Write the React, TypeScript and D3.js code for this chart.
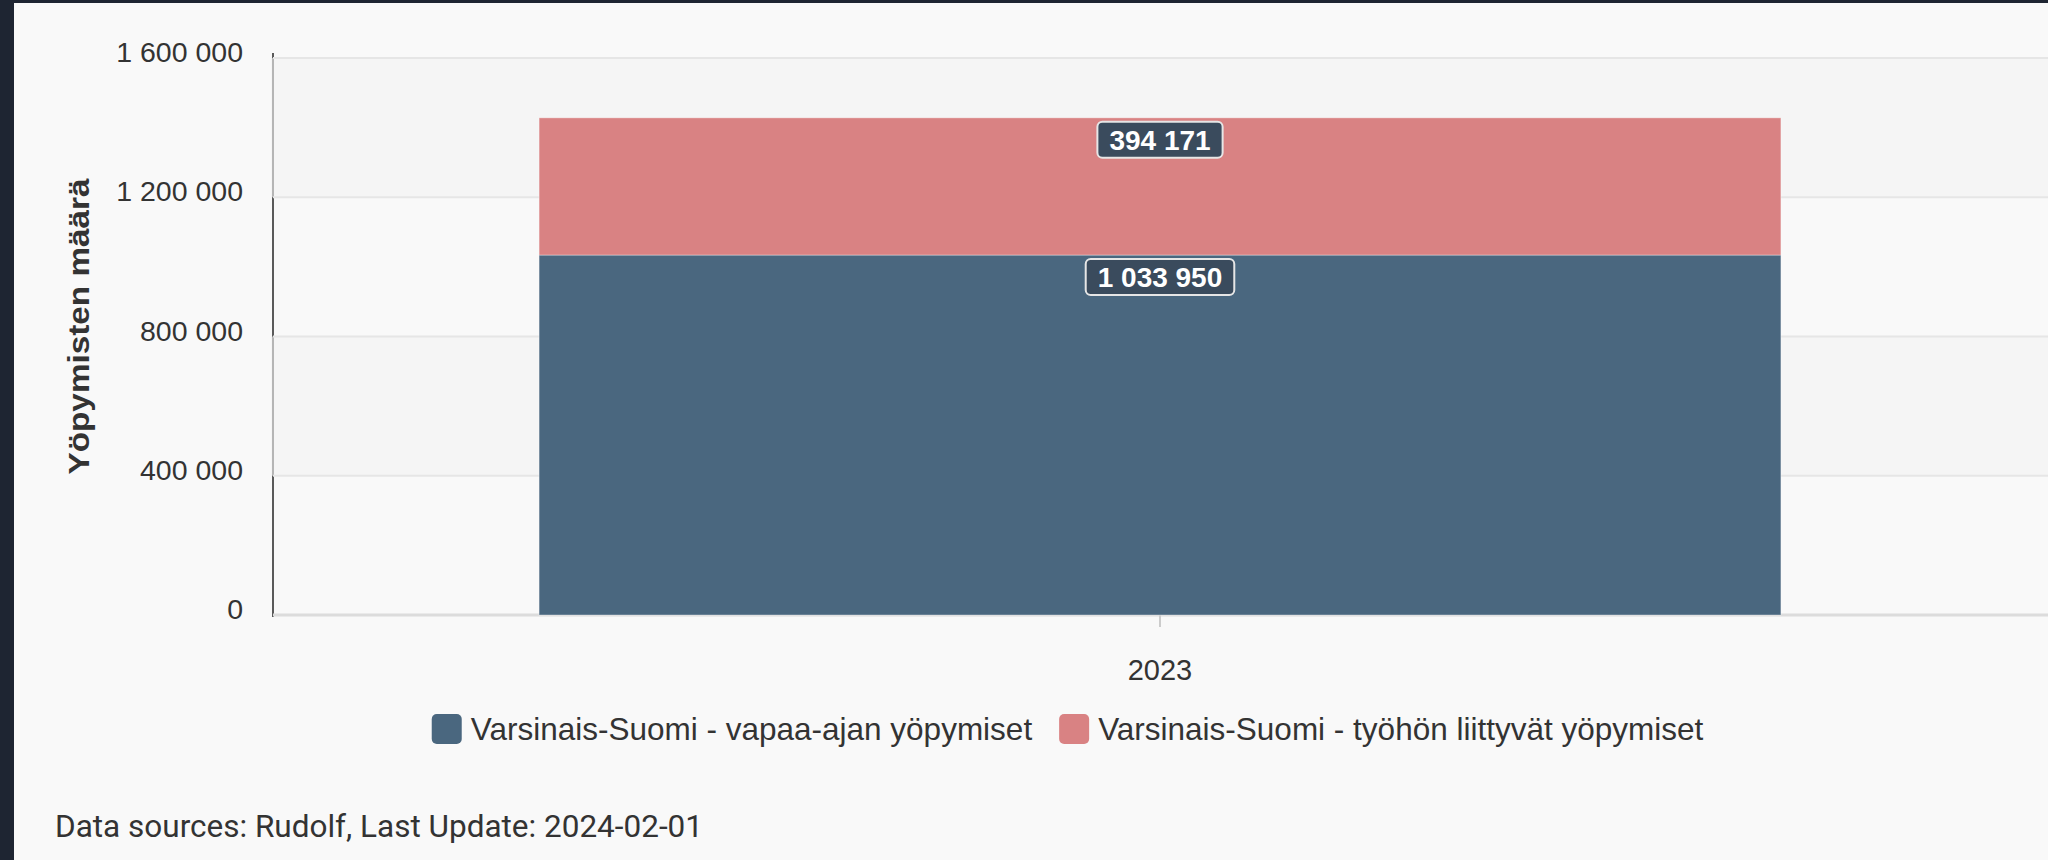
import React from "react";
import * as d3 from "d3";

const categories = ["2023"];
const seriesNames = [
  "Varsinais-Suomi - vapaa-ajan yöpymiset",
  "Varsinais-Suomi - työhön liittyvät yöpymiset",
];
const leisureValues = [1033950];
const workValues = [394171];
const seriesColors = ["#4a677f", "#d98283"];
const yTicks = [0, 400000, 800000, 1200000, 1600000];
const yTitle = "Yöpymisten määrä";
const footerText = "Data sources: Rudolf, Last Update: 2024-02-01";

const W = 2048;
const H = 860;
const plotLeft = 273;
const plotRight = 2047;
const plotTop = 58;
const plotBottom = 615;

const fmt = (v: number) => d3.format(",")(v).replace(/,/g, " ");

function measure(text: string, font: string): number {
  const c = document.createElement("canvas");
  const ctx = c.getContext("2d")!;
  ctx.font = font;
  return ctx.measureText(text).width;
}

export default function App() {
  const rows = categories.map((c, i) => ({
    cat: c,
    s0: leisureValues[i],
    s1: workValues[i],
  }));
  const stack = d3.stack<any>().keys(["s0", "s1"]);
  const stacked = stack(rows);

  const x = d3
    .scaleBand<string>()
    .domain(categories)
    .range([plotLeft, plotRight])
    .paddingInner(0.3)
    .paddingOuter(0.15);
  const y = d3.scaleLinear().domain([0, 1600000]).range([plotBottom, plotTop]);

  const tickFont = "28.5px 'Liberation Sans', Arial, sans-serif";
  const legendFont = "31.5px 'Liberation Sans', Arial, sans-serif";
  const labelFont = "bold 28px 'Liberation Sans', Arial, sans-serif";

  // bands between alternate ticks
  const bands: [number, number][] = [];
  for (let i = 1; i < yTicks.length; i += 2) bands.push([yTicks[i], yTicks[i + 1]]);

  // legend layout
  const sq = 30;
  const gap = 9;
  const itemSpacing = 27;
  const widths = seriesNames.map((n) => sq + gap + measure(n, legendFont));
  const total = widths.reduce((a, b) => a + b, 0) + itemSpacing * (widths.length - 1);
  let lx = 1067.5 - total / 2;
  const legendItems = seriesNames.map((n, i) => {
    const item = { name: n, x: lx, color: seriesColors[i] };
    lx += widths[i] + itemSpacing;
    return item;
  });

  return (
    <div style={{ position: "absolute", left: 0, top: 0 }}>
      <svg width={W} height={H} style={{ display: "block" }}>
        <rect x={0} y={0} width={W} height={H} fill="#1e2532" />
        <rect x={14} y={3} width={W - 14} height={H - 3} fill="#f9f9f9" />

        {/* y axis line */}
        <line x1={plotLeft} x2={plotLeft} y1={plotTop - 5} y2={plotBottom + 2} stroke="#5a5a5a" strokeWidth={2} />

        {/* plot bands */}
        {bands.map(([a, b], i) => (
          <rect
            key={i}
            x={plotLeft - 2}
            y={y(b)}
            width={plotRight - plotLeft + 4}
            height={y(a) - y(b)}
            fill="rgb(242,242,242)"
            fillOpacity={0.6}
          />
        ))}

        {/* gridlines */}
        {yTicks.map((t) => (
          <line
            key={t}
            x1={plotLeft}
            x2={W}
            y1={y(t)}
            y2={y(t)}
            stroke={t === 0 ? "#dcdcdc" : "#e6e6e6"}
            strokeWidth={t === 0 ? 3 : 2}
          />
        ))}

        {/* y tick labels */}
        {yTicks.map((t) => (
          <text
            key={"l" + t}
            x={243}
            y={y(t) + 4}
            textAnchor="end"
            style={{ font: tickFont }}
            fill="#333333"
          >
            {fmt(t)}
          </text>
        ))}

        {/* y title */}
        <text
          transform={`translate(89, ${(plotTop + plotBottom) / 2 - 10}) rotate(-90)`}
          textAnchor="middle"
          style={{ font: "bold 30px 'Liberation Sans', Arial, sans-serif" }}
          fill="#333333"
          textLength={296}
          lengthAdjust="spacingAndGlyphs"
        >
          {yTitle}
        </text>

        {/* x tick + label */}
        {categories.map((c) => {
          const cx = (x(c) as number) + x.bandwidth() / 2;
          return (
            <g key={c}>
              <line x1={cx} x2={cx} y1={plotBottom} y2={plotBottom + 12} stroke="#cccccc" strokeWidth={2} />
              <text x={cx} y={680} textAnchor="middle" style={{ font: "29px 'Liberation Sans', Arial, sans-serif" }} fill="#333333">
                {c}
              </text>
            </g>
          );
        })}

        {/* bars */}
        {stacked.map((layer, si) =>
          layer.map((d, i) => (
            <rect
              key={si + "-" + i}
              x={x(categories[i])}
              y={y(d[1])}
              width={x.bandwidth()}
              height={y(d[0]) - y(d[1])}
              fill={seriesColors[si]}
              stroke="rgba(255,255,255,0.35)"
              strokeWidth={1}
            />
          ))
        )}

        {/* data labels */}
        {stacked.map((layer, si) =>
          layer.map((d, i) => {
            const v = d[1] - d[0];
            const txt = fmt(v);
            const tw = measure(txt, labelFont);
            const bw = tw + 24;
            const bh = 36;
            const cx = (x(categories[i]) as number) + x.bandwidth() / 2;
            const top = y(d[1]) + 4;
            return (
              <g key={"dl" + si + "-" + i}>
                <rect
                  x={cx - bw / 2}
                  y={top}
                  width={bw}
                  height={bh}
                  rx={5}
                  fill="#3a4b5d"
                  stroke="#e6e6e6"
                  strokeWidth={2}
                />
                <text x={cx} y={top + 28} textAnchor="middle" style={{ font: labelFont }} fill="#ffffff">
                  {txt}
                </text>
              </g>
            );
          })
        )}

        {/* legend */}
        {legendItems.map((it) => (
          <g key={it.name}>
            <rect x={it.x} y={714} width={sq} height={sq} rx={5} fill={it.color} />
            <text x={it.x + sq + gap} y={740} style={{ font: legendFont }} fill="#333333">
              {it.name}
            </text>
          </g>
        ))}

        {/* footer */}
        <text x={55} y={837} style={{ font: "31.5px Roboto, sans-serif" }} fill="#333333">
          {footerText}
        </text>
      </svg>
    </div>
  );
}
